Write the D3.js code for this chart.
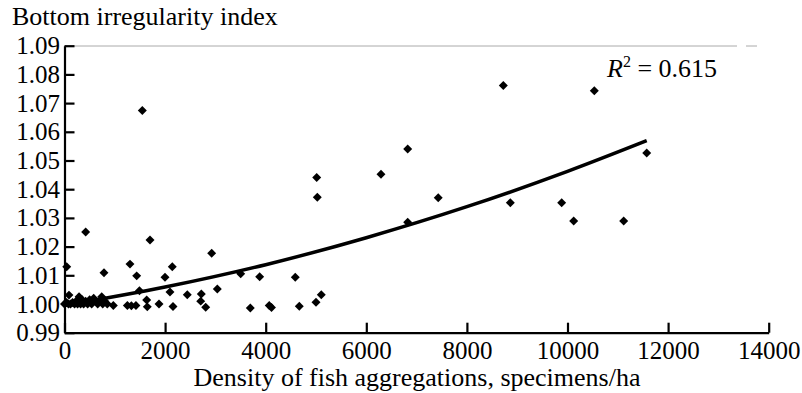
<!DOCTYPE html>
<html>
<head>
<meta charset="utf-8">
<script src="https://cdn.jsdelivr.net/npm/d3@7"></script>
<style>
  body { margin: 0; background: #fff; }
  svg { display: block; }
  svg text { font-family: 'Liberation Serif', 'DejaVu Serif', 'Times New Roman', Times, serif; }
</style>
</head>
<body>
<svg id="chart" width="802" height="393"></svg>
<script>
// density of fish aggregations (specimens/ha) vs bottom irregularity index
const densities = [
  0, 40, 80, 89, 120, 160, 200, 230, 260, 290, 320, 350, 380, 420, 460, 500,
  540, 580, 620, 660, 700, 740, 760, 800, 850, 971,
  44, 421, 785, 1250, 1330, 1420, 1302, 1435, 1490, 1547, 1634, 1646, 1700,
  1879, 1998, 2097, 2143, 2157, 2441, 2708, 2720, 2807, 2926, 3038,
  3503, 3694, 3880, 4070, 4115, 4588, 4668, 5000, 5105, 5014, 5026,
  6292, 6823, 6823, 7430, 8724, 8863, 9884, 10123, 10533, 11117, 11575
];
const irregularity = [
  1.0000, 1.0005, 1.0000, 1.0031, 1.0000, 1.0005, 1.0000, 1.0010, 1.0000, 1.0025, 1.0000, 1.0015, 1.0000, 1.0010, 1.0000, 1.0015,
  1.0000, 1.0020, 1.0010, 1.0000, 1.0010, 1.0025, 1.0000, 1.0010, 1.0000, 0.9995,
  1.0130, 1.0251, 1.0109, 0.9995, 0.9994, 0.9995, 1.0139, 1.0098, 1.0046, 1.0674, 1.0014, 0.9990, 1.0223,
  1.0000, 1.0093, 1.0042, 1.0130, 0.9991, 1.0032, 1.0010, 1.0035, 0.9989, 1.0177, 1.0052,
  1.0105, 0.9986, 1.0095, 0.9995, 0.9988, 1.0093, 0.9992, 1.0006, 1.0032, 1.0441, 1.0372,
  1.0452, 1.0540, 1.0285, 1.0370, 1.0761, 1.0353, 1.0353, 1.0289, 1.0743, 1.0289, 1.0526
];

// trend curve
const trendX = [0, 2000, 4000, 6000, 8000, 10000, 11575];
const trendY = [0.9995, 1.0059, 1.0137, 1.0231, 1.0339, 1.0462, 1.0569];

const xTicks = [0, 2000, 4000, 6000, 8000, 10000, 12000, 14000];
const yTicks = [0.99, 1.00, 1.01, 1.02, 1.03, 1.04, 1.05, 1.06, 1.07, 1.08, 1.09];

const svg = d3.select('#chart');
const FONT = 25;
const SERIF = "'Liberation Serif', 'DejaVu Serif', 'Times New Roman', Times, serif";

const x = d3.scaleLinear().domain([0, 14000]).range([64.5, 768.7]);
const y = d3.scaleLinear().domain([0.99, 1.09]).range([332.7, 45.7]);

// faint frame line along the top
svg.append('line')
  .attr('x1', 73).attr('x2', 737).attr('y1', 46).attr('y2', 46)
  .attr('stroke', '#aaa').attr('stroke-width', 1);
svg.append('line')
  .attr('x1', 746).attr('x2', 757).attr('y1', 46).attr('y2', 46)
  .attr('stroke', '#aaa').attr('stroke-width', 1);

const axisX = svg.append('g')
  .attr('transform', `translate(0,${y.range()[0]})`)
  .call(d3.axisBottom(x).tickValues(xTicks).tickFormat(d3.format('d'))
    .tickSizeInner(-10).tickSizeOuter(0).tickPadding(9));

const axisY = svg.append('g')
  .attr('transform', `translate(${x.range()[0]},0)`)
  .call(d3.axisLeft(y).tickValues(yTicks).tickFormat(d3.format('.2f'))
    .tickSizeInner(-10).tickSizeOuter(0).tickPadding(4.5));

[axisX, axisY].forEach(g => {
  g.attr('font-family', SERIF).attr('font-size', FONT);
  g.select('.domain').attr('stroke', '#000').attr('stroke-width', 2.2);
  g.selectAll('.tick line').attr('stroke', '#000').attr('stroke-width', 2.2);
  g.selectAll('text')
    .style('font-family', SERIF)
    .style('font-size', FONT + 'px')
    .attr('fill', '#000');
});

// points
const points = densities.map((d, i) => ({ x: d, y: irregularity[i] }));
const diamond = d3.symbol().type(d3.symbolSquare).size(40);
svg.append('g')
  .selectAll('path')
  .data(points)
  .join('path')
  .attr('d', diamond)
  .attr('transform', d => `translate(${x(d.x)},${y(d.y)}) rotate(45)`)
  .attr('fill', '#000');

// trend line
const trend = trendX.map((d, i) => [d, trendY[i]]);
svg.append('path')
  .datum(trend)
  .attr('fill', 'none')
  .attr('stroke', '#000')
  .attr('stroke-width', 3.5)
  .attr('d', d3.line().x(d => x(d[0])).y(d => y(d[1])).curve(d3.curveMonotoneX));

// R^2 label
const r2 = svg.append('text')
  .attr('x', 607)
  .attr('y', 77)
  .style('font-family', SERIF)
  .style('font-size', '26px')
  .attr('fill', '#000');
r2.append('tspan').attr('font-style', 'italic').text('R');
r2.append('tspan').style('font-size', '16px').attr('dy', -10).text('2');
r2.append('tspan').attr('dy', 10).text(' = 0.615');

// axis titles
svg.append('text')
  .attr('x', 12)
  .attr('y', 25)
  .style('font-family', SERIF)
  .style('font-size', '26px')
  .attr('fill', '#000')
  .text('Bottom irregularity index');

svg.append('text')
  .attr('x', 417)
  .attr('y', 386)
  .attr('text-anchor', 'middle')
  .style('font-family', SERIF)
  .style('font-size', '26px')
  .attr('fill', '#000')
  .text('Density of fish aggregations, specimens/ha');
</script>
</body>
</html>
